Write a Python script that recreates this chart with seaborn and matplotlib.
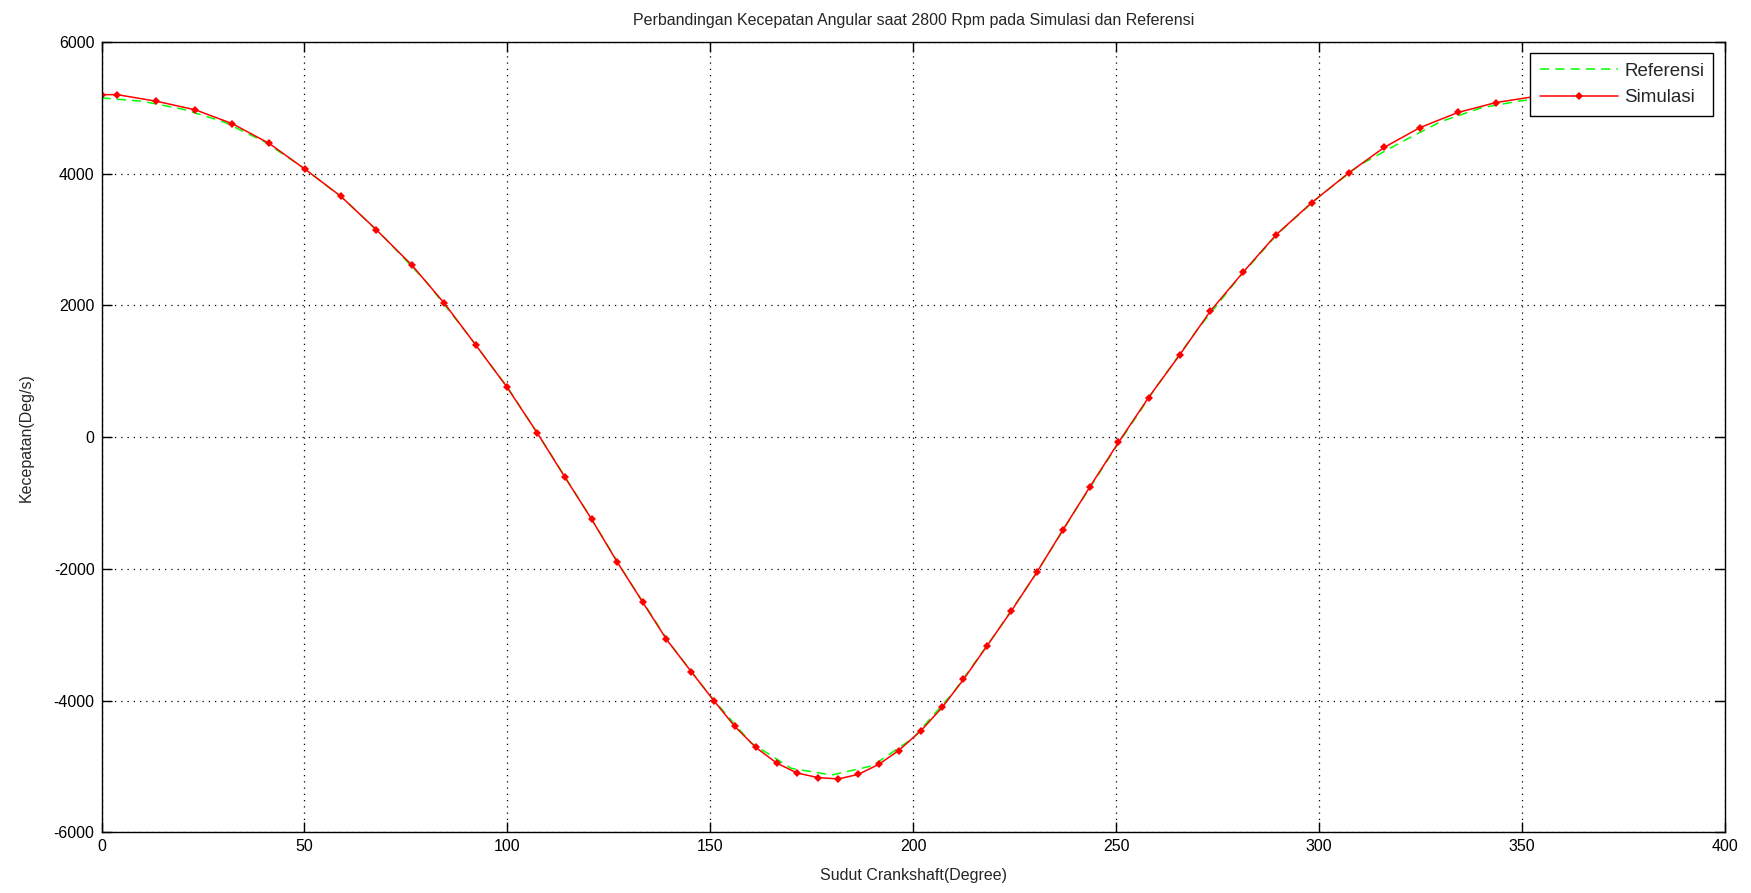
import numpy as np
import pandas as pd
import matplotlib
matplotlib.use('Agg')
import matplotlib.pyplot as plt
import seaborn as sns

# reference curve (green dashed)
ref_deg = [0, 10, 20, 30, 40, 50, 60, 70, 80, 90, 100, 110, 120, 130, 140, 150,
           160, 170, 180, 190, 200, 210, 220, 230, 240, 250, 260, 270, 280, 290,
           300, 310, 320, 330, 340, 350, 360]
ref_speed = [5150, 5100, 4980, 4790, 4490, 4080, 3600, 3010, 2360, 1580, 760,
             -190, -1170, -2180, -3130, -3930, -4640, -5030, -5130, -4990,
             -4570, -3870, -3010, -2100, -1110, -150, 770, 1630, 2400, 3100,
             3650, 4130, 4470, 4790, 5000, 5110, 5150]

# simulation (red, diamond markers)
sim_deg = [0, 3.9, 13.5, 23.1, 32.2, 41.3, 50.1, 58.9, 67.7, 76.5, 84.5, 92.2,
           99.9, 107.3, 114.2, 120.8, 127.1, 133.4, 139.2, 145.3, 151.0, 156.0,
           161.2, 166.4, 171.4, 176.6, 181.6, 186.5, 191.5, 196.4, 201.9, 207.2,
           212.4, 218.2, 224.2, 230.5, 236.9, 243.5, 250.6, 258.0, 265.7, 273.2,
           281.4, 289.4, 298.2, 307.3, 316.1, 324.9, 334.3, 343.6, 353.0, 360.0]
sim_speed = [5200, 5200, 5100, 4970, 4760, 4460, 4070, 3660, 3150, 2610, 2030,
             1400, 760, 70, -610, -1250, -1900, -2510, -3070, -3560, -4010,
             -4390, -4710, -4950, -5100, -5170, -5190, -5120, -4970, -4760,
             -4460, -4100, -3680, -3170, -2640, -2050, -1410, -760, -80, 600,
             1250, 1910, 2510, 3070, 3560, 4010, 4400, 4700, 4930, 5080, 5170,
             5200]

sns.set_style('ticks')
plt.rcParams['font.family'] = ['Liberation Sans', 'DejaVu Sans']
plt.rcParams['axes.unicode_minus'] = False

fig = plt.figure(figsize=(17.51, 8.93), dpi=100)
ax = fig.add_axes([0.058, 0.068, 0.927, 0.885])

df_ref = pd.DataFrame({'deg': ref_deg, 'speed': ref_speed})
df_sim = pd.DataFrame({'deg': sim_deg, 'speed': sim_speed})

sns.lineplot(data=df_ref, x='deg', y='speed', ax=ax, color='#00ff00',
             linestyle=(0, (6, 4)), linewidth=1.1, label='Referensi', sort=False)
sns.lineplot(data=df_sim, x='deg', y='speed', ax=ax, color='#ff0000',
             linewidth=1.1, marker='D', markersize=4.5, markeredgewidth=0,
             label='Simulasi', sort=False)

ax.set_xlim(0, 400)
ax.set_ylim(-6000, 6000)
ax.set_xticks(np.arange(0, 401, 50))
ax.set_yticks(np.arange(-6000, 6001, 2000))
ax.grid(True, color='black', linestyle=(0, (1, 4)), linewidth=0.9)
ax.tick_params(direction='in', length=7, width=1, top=True, right=True,
               labelsize=11.5, colors='black', pad=5)
for s in ax.spines.values():
    s.set_color('black')
    s.set_linewidth(1)

ax.set_title('Perbandingan Kecepatan Angular saat 2800 Rpm pada Simulasi dan Referensi',
             fontsize=11.5, pad=12)
ax.set_xlabel('Sudut Crankshaft(Degree)', fontsize=11.5, labelpad=10)
ax.set_ylabel('Kecepatan(Deg/s)', fontsize=11.5, labelpad=14)

leg = ax.legend(loc='upper right', fontsize=13.5, frameon=True, fancybox=False,
                edgecolor='black', framealpha=1, handlelength=4.2,
                borderaxespad=0.6, borderpad=0.5, labelspacing=0.5,
                handletextpad=0.3)
leg.get_frame().set_linewidth(1)

fig.savefig('out.png', dpi=100)
